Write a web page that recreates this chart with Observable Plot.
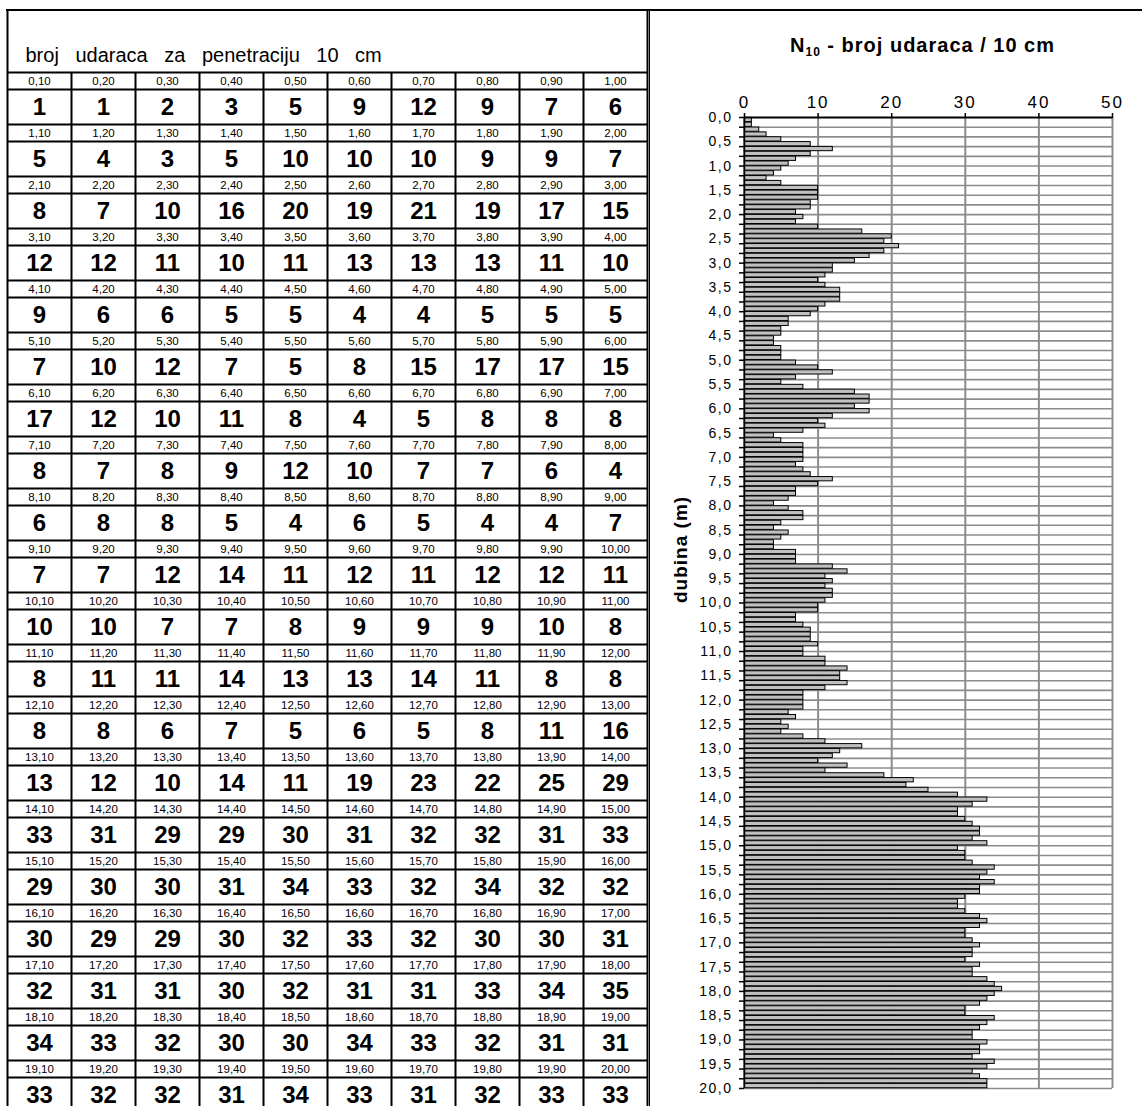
<!DOCTYPE html>
<html>
<head>
<meta charset="utf-8">
<script src="https://cdn.jsdelivr.net/npm/d3@7"></script>
<script src="https://cdn.jsdelivr.net/npm/@observablehq/plot@0.6"></script>
<style>
  body { margin: 0; background: #fff; overflow: hidden; }
  #wrap { position: relative; width: 1142px; height: 1106px; overflow: hidden; background: #fff; }
  #table, #chart { position: absolute; top: 0; }
  #table { left: 0; }
  #chart { left: 650px; }
  .deco { position: absolute; background: #000; }
  g[aria-label="x-axis tick label"] text { letter-spacing: 2px; font-size: 17px; }
  g[aria-label="y-axis tick label"] text { letter-spacing: 1.5px; font-size: 14px; }
</style>
</head>
<body>
<div id="wrap">
  <div id="table"></div>
  <div id="chart"></div>
</div>
<script>
// ---- data: blows per 10 cm, one list per metre of depth ----
const blows = [
  [1, 1, 2, 3, 5, 9, 12, 9, 7, 6],
  [5, 4, 3, 5, 10, 10, 10, 9, 9, 7],
  [8, 7, 10, 16, 20, 19, 21, 19, 17, 15],
  [12, 12, 11, 10, 11, 13, 13, 13, 11, 10],
  [9, 6, 6, 5, 5, 4, 4, 5, 5, 5],
  [7, 10, 12, 7, 5, 8, 15, 17, 17, 15],
  [17, 12, 10, 11, 8, 4, 5, 8, 8, 8],
  [8, 7, 8, 9, 12, 10, 7, 7, 6, 4],
  [6, 8, 8, 5, 4, 6, 5, 4, 4, 7],
  [7, 7, 12, 14, 11, 12, 11, 12, 12, 11],
  [10, 10, 7, 7, 8, 9, 9, 9, 10, 8],
  [8, 11, 11, 14, 13, 13, 14, 11, 8, 8],
  [8, 8, 6, 7, 5, 6, 5, 8, 11, 16],
  [13, 12, 10, 14, 11, 19, 23, 22, 25, 29],
  [33, 31, 29, 29, 30, 31, 32, 32, 31, 33],
  [29, 30, 30, 31, 34, 33, 32, 34, 32, 32],
  [30, 29, 29, 30, 32, 33, 32, 30, 30, 31],
  [32, 31, 31, 30, 32, 31, 31, 33, 34, 35],
  [34, 33, 32, 30, 30, 34, 33, 32, 31, 31],
  [33, 32, 32, 31, 34, 33, 31, 32, 33, 33]
];
const tableTitle = "broj udaraca za penetraciju 10 cm";
const chartTitle = "N10 - broj udaraca / 10 cm";
const yAxisTitle = "dubina (m)";
const xTicks = [0, 10, 20, 30, 40, 50];
const yLabelTicks = [0, 0.5, 1, 1.5, 2, 2.5, 3, 3.5, 4, 4.5, 5, 5.5, 6, 6.5, 7, 7.5, 8, 8.5, 9, 9.5,
  10, 10.5, 11, 11.5, 12, 12.5, 13, 13.5, 14, 14.5, 15, 15.5, 16, 16.5, 17, 17.5, 18, 18.5, 19, 19.5, 20];
const stepTicks = d3.range(0, 101).map(i => i / 5); // every 0.2 m (ticks + gridlines)

const FONT = "'Liberation Sans', Arial, Helvetica, sans-serif";
const comma = (v, d) => v.toFixed(d).replace(".", ",");

// flatten into cells
const cells = [];
blows.forEach((row, r) => row.forEach((n, c) => {
  const depth = (r * 10 + c + 1) / 10;
  cells.push({r, c, n, depth, top: depth - 0.1});
}));

// ---- table ----
const LBL = 17 / 52;            // label row share of one row pair
const TITLE_TOP = -62 / 52;     // title row top in row-pair units
const rowLines = [];
for (let r = 0; r <= 20; r++) { rowLines.push(r); if (r < 20) rowLines.push(r + LBL); }

const table = Plot.plot({
  width: 650, height: 1106, margin: 0,
  style: {fontFamily: FONT, background: "transparent"},
  x: {domain: [0, 10], range: [7, 647], axis: null},
  y: {domain: [TITLE_TOP, 20], range: [10, 1112], axis: null},
  marks: [
    Plot.ruleY(rowLines, {y: d => d, x1: 0, x2: 10, stroke: "#000", strokeWidth: 2}),
    Plot.ruleX(d3.range(1, 10), {x: d => d, y1: 0, y2: 20, stroke: "#000", strokeWidth: 2}),
    Plot.ruleX([0, 10], {x: d => d, y1: TITLE_TOP, y2: 20, stroke: "#000", strokeWidth: 2}),
    Plot.text([tableTitle], {x: 0, y: -0.32, text: d => d, textAnchor: "start", dx: 18, fontSize: 20}),
    Plot.text(cells, {x: d => d.c + 0.5, y: d => d.r + LBL / 2, text: d => comma(d.depth, 2), fontSize: 11.5}),
    Plot.text(cells, {x: d => d.c + 0.5, y: d => d.r + (1 + LBL) / 2, text: d => String(d.n), fontSize: 24, fontWeight: "bold"})
  ]
});
table.querySelectorAll("text").forEach(t => { if (t.textContent === tableTitle) t.style.wordSpacing = "11px"; });
document.getElementById("table").appendChild(table);

// ---- bar chart ----
const chart = Plot.plot({
  width: 492, height: 1106,
  marginLeft: 94, marginRight: 30, marginTop: 117, marginBottom: 18,
  style: {fontFamily: FONT, background: "transparent"},
  x: {domain: [0, 50], axis: null},
  y: {domain: [0, 20], reverse: true, axis: null},
  marks: [
    Plot.ruleY(stepTicks.slice(1), {y: d => d, stroke: "#8c8c8c", strokeWidth: 1.6}),
    Plot.ruleX(xTicks.slice(1), {x: d => d, stroke: "#8c8c8c", strokeWidth: 2}),
    Plot.rect(cells, {x1: 0, x2: "n", y1: "top", y2: "depth", fill: "#c0c0c0", stroke: "#000", strokeWidth: 1, insetTop: 0.3, insetBottom: 0.3}),
    Plot.ruleY([0], {y: d => d, stroke: "#000", strokeWidth: 2}),
    Plot.ruleX([0], {x: d => d, stroke: "#000", strokeWidth: 1.5}),
    Plot.axisX({anchor: "top", ticks: xTicks, tickSize: 5, tickPadding: 5, fontSize: 17, label: null, tickFormat: d => String(d), stroke: "#000", strokeWidth: 1.5}),
    Plot.axisY({anchor: "left", ticks: stepTicks, tickSize: 5, tickFormat: () => "", label: null, stroke: "#000", strokeWidth: 1.5}),
    Plot.axisY({anchor: "left", ticks: yLabelTicks, tickSize: 0, tickPadding: 12, fontSize: 14, label: null, tickFormat: d => comma(d, 1)}),
    Plot.text([chartTitle], {frameAnchor: "top", dy: -80, dx: -6, text: d => d, fontSize: 20, fontWeight: "bold"}),
    Plot.text([yAxisTitle], {frameAnchor: "left", rotate: -90, dx: -64, text: d => d, fontSize: 19, fontWeight: "bold"})
  ]
});
// subscript in the title
chart.querySelectorAll("text").forEach(t => {
  if (t.textContent === chartTitle) {
    t.textContent = "";
    t.style.letterSpacing = "1px";
    const ns = "http://www.w3.org/2000/svg";
    const a = document.createElementNS(ns, "tspan"); a.textContent = "N";
    const b = document.createElementNS(ns, "tspan"); b.textContent = "10"; b.setAttribute("font-size", "12"); b.setAttribute("dy", "4");
    const c = document.createElementNS(ns, "tspan"); c.textContent = chartTitle.slice(3); c.setAttribute("dy", "-4");
    t.append(a, b, c);
  }
  if (t.textContent === yAxisTitle) t.style.letterSpacing = "1px";
});
document.getElementById("chart").appendChild(chart);

// ---- frame decorations ----
const wrap = document.getElementById("wrap");
function deco(l, t, w, h) {
  const d = document.createElement("div"); d.className = "deco";
  Object.assign(d.style, {left: l + "px", top: t + "px", width: w + "px", height: h + "px"});
  wrap.appendChild(d);
}
deco(6, 9, 1136, 2);     // top frame line
deco(649, 10, 1, 1096);  // chart panel left border
</script>
</body>
</html>
